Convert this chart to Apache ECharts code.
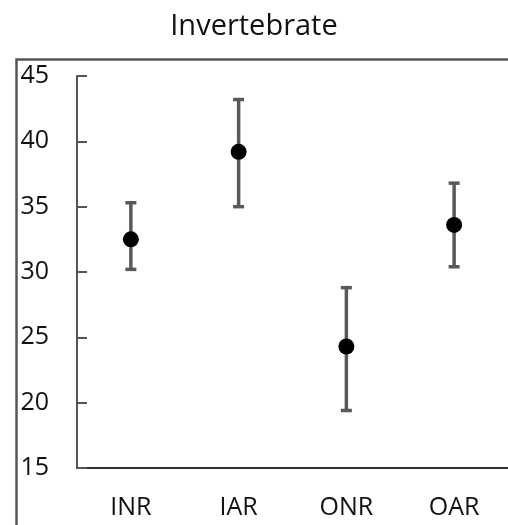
<!DOCTYPE html>
<html>
<head>
<meta charset="utf-8">
<script src="https://cdn.jsdelivr.net/npm/echarts@6/dist/echarts.min.js"></script>
<style>
html,body{margin:0;padding:0;background:#fff;}
#chart{width:508px;height:525px;}
</style>
</head>
<body>
<div id="chart"></div>
<script>
const categories = ['INR', 'IAR', 'ONR', 'OAR'];
const means = [32.5, 39.2, 24.3, 33.6];
const upper = [35.3, 43.2, 28.8, 36.8];
const lower = [30.2, 35.0, 19.4, 30.4];
const yTicks = [15, 20, 25, 30, 35, 40, 45];

const errData = categories.map((c, i) => [i, lower[i], upper[i]]);
const FONT = '"Open Sans", "Noto Sans", sans-serif';

const chart = echarts.init(document.getElementById('chart'), null, {renderer: 'canvas'});
chart.setOption({
  animation: false,
  backgroundColor: '#fff',
  title: {
    text: 'Invertebrate',
    left: 'center',
    top: 7,
    textStyle: {fontFamily: FONT, fontSize: 29, fontWeight: 'normal', color: '#111'}
  },
  graphic: [{
    type: 'rect',
    left: 14, top: 57,
    shape: {width: 700, height: 700},
    style: {fill: 'none', stroke: '#555', lineWidth: 2.5},
    silent: true, z: -1
  }],
  grid: {left: 77, top: 76, width: 435, height: 392, containLabel: false},
  xAxis: {
    type: 'category',
    data: categories,
    boundaryGap: true,
    axisLine: {lineStyle: {color: '#303030', width: 2}},
    axisTick: {inside: true, length: 7, alignWithLabel: true, lineStyle: {color: '#303030', width: 2}},
    axisLabel: {margin: 27, fontFamily: FONT, fontSize: 25, color: '#111'},
    splitLine: {show: false}
  },
  yAxis: {
    type: 'value',
    min: yTicks[0], max: yTicks[yTicks.length - 1], interval: 5,
    axisLine: {show: true, lineStyle: {color: '#555', width: 2}},
    axisTick: {show: true, inside: true, length: 10, lineStyle: {color: '#555', width: 2}},
    axisLabel: {margin: 28, fontFamily: FONT, fontSize: 25, color: '#111'},
    splitLine: {show: false}
  },
  series: [
    {
      type: 'custom',
      data: errData,
      z: 2,
      renderItem: function (params, api) {
        const x = api.value(0);
        const lo = api.coord([x, api.value(1)]);
        const hi = api.coord([x, api.value(2)]);
        const hw = 5.5;
        const st = {stroke: '#595959', lineWidth: 3.5};
        return {
          type: 'group',
          children: [
            {type: 'line', shape: {x1: hi[0], y1: hi[1], x2: lo[0], y2: lo[1]}, style: st},
            {type: 'line', shape: {x1: hi[0] - hw, y1: hi[1], x2: hi[0] + hw, y2: hi[1]}, style: st},
            {type: 'line', shape: {x1: lo[0] - hw, y1: lo[1], x2: lo[0] + hw, y2: lo[1]}, style: st}
          ]
        };
      }
    },
    {
      type: 'scatter',
      data: means,
      symbol: 'circle',
      symbolSize: 16,
      z: 3,
      itemStyle: {color: '#000', opacity: 1}
    }
  ]
});
</script>
</body>
</html>
